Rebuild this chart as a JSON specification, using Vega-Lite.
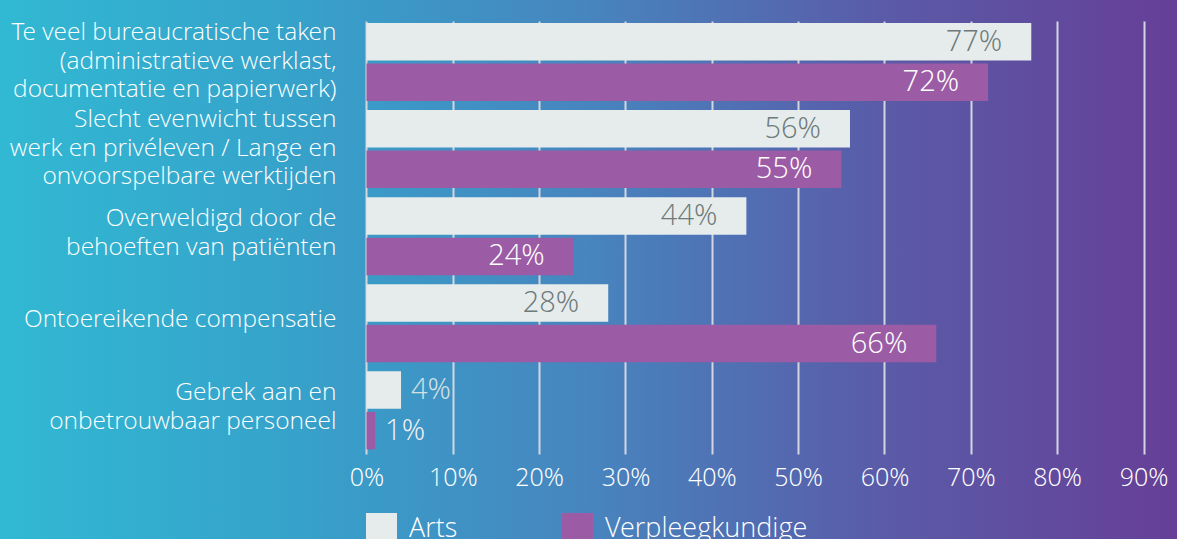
{
  "$schema": "https://vega.github.io/schema/vega-lite/v6.json",
  "width": 1177,
  "height": 539,
  "autosize": {"type": "none"},
  "padding": 0,
  "background": "#4785bf",
  "view": {
    "stroke": null,
    "fill": {
      "gradient": "linear",
      "x1": 0, "y1": 0, "x2": 1, "y2": 0,
      "stops": [
        {"offset": 0, "color": "#31b9d3"},
        {"offset": 0.25, "color": "#36a2ca"},
        {"offset": 0.5, "color": "#4785bf"},
        {"offset": 0.75, "color": "#5a5ba8"},
        {"offset": 1, "color": "#663f97"}
      ]
    }
  },
  "config": {
    "font": "Open Sans Light, Open Sans",
    "text": {"font": "Open Sans Light, Open Sans", "fontWeight": 300}
  },
  "data": {
    "values": [
      {"category": "Te veel bureaucratische taken\n(administratieve werklast,\ndocumentatie en papierwerk)", "series": "Arts", "value": 0.77},
      {"category": "Te veel bureaucratische taken\n(administratieve werklast,\ndocumentatie en papierwerk)", "series": "Verpleegkundige", "value": 0.72},
      {"category": "Slecht evenwicht tussen\nwerk en privéleven / Lange en\nonvoorspelbare werktijden", "series": "Arts", "value": 0.56},
      {"category": "Slecht evenwicht tussen\nwerk en privéleven / Lange en\nonvoorspelbare werktijden", "series": "Verpleegkundige", "value": 0.55},
      {"category": "Overweldigd door de\nbehoeften van patiënten", "series": "Arts", "value": 0.44},
      {"category": "Overweldigd door de\nbehoeften van patiënten", "series": "Verpleegkundige", "value": 0.24},
      {"category": "Ontoereikende compensatie", "series": "Arts", "value": 0.28},
      {"category": "Ontoereikende compensatie", "series": "Verpleegkundige", "value": 0.66},
      {"category": "Gebrek aan en\nonbetrouwbaar personeel", "series": "Arts", "value": 0.04},
      {"category": "Gebrek aan en\nonbetrouwbaar personeel", "series": "Verpleegkundige", "value": 0.01}
    ]
  },
  "encoding": {
    "y": {
      "field": "category",
      "type": "nominal",
      "sort": null,
      "scale": {"range": [21, 454], "paddingInner": 0.104, "paddingOuter": 0.038, "align": 0.3},
      "axis": {
        "orient": "left",
        "offset": -336,
        "domain": false,
        "ticks": false,
        "grid": false,
        "title": null,
        "labelPadding": 0,
        "labelFont": "Open Sans Light, Open Sans",
        "labelFontWeight": 300,
        "labelFontSize": 24.5,
        "labelColor": "#ffffff",
        "labelLineHeight": 28.5,
        "labelOffset": {
          "condition": [
            {"test": "length(split(datum.value, '\\n')) == 3", "value": -29},
            {"test": "length(split(datum.value, '\\n')) == 2", "value": -17}
          ],
          "value": -3.5
        },
        "labelLimit": 0,
        "labelExpr": "split(datum.value, '\\n')"
      }
    },
    "yOffset": {
      "field": "series",
      "type": "nominal",
      "sort": ["Arts", "Verpleegkundige"],
      "scale": {"paddingInner": 0.074}
    },
    "x": {
      "field": "value",
      "type": "quantitative",
      "scale": {"domain": [-0.4245, 0.9388], "nice": false, "zero": false},
      "axis": {
        "orient": "top",
        "offset": -492,
        "values": [0, 0.1, 0.2, 0.3, 0.4, 0.5, 0.6, 0.7, 0.8, 0.9],
        "format": ".0%",
        "domain": false,
        "ticks": false,
        "grid": true,
        "gridColor": "#d3d5df",
        "gridWidth": 2,
        "title": null,
        "labelPadding": 2,
        "labelDx": 11,
        "labelFont": "Open Sans Light, Open Sans",
        "labelFontWeight": 300,
        "labelFontSize": 25,
        "labelColor": "#ffffff",
        "labelFlush": false,
        "labelOverlap": false,
        "labelBound": false
      }
    }
  },
  "layer": [
    {
      "mark": {"type": "bar"},
      "encoding": {
        "x2": {"datum": 0},
        "color": {
          "field": "series",
          "type": "nominal",
          "scale": {"domain": ["Arts", "Verpleegkundige"], "range": ["#e6ecec", "#9b5ca5"]},
          "legend": {
            "orient": "none",
            "legendX": 366,
            "legendY": 513,
            "direction": "horizontal",
            "title": null,
            "symbolType": "square",
            "symbolSize": 961,
            "symbolStrokeWidth": 0,
            "symbolOpacity": 1,
            "labelFont": "Open Sans Light, Open Sans",
            "labelFontWeight": 300,
            "labelFontSize": 27,
            "labelColor": "#ffffff",
            "labelOffset": 12,
            "columnPadding": 104,
            "padding": 0,
            "labelLimit": 0
          }
        }
      }
    },
    {
      "transform": [{"filter": "datum.value >= 0.1"}],
      "mark": {"type": "text", "align": "right", "baseline": "middle", "dx": -29, "fontSize": 29, "fontWeight": 300},
      "encoding": {
        "text": {"field": "value", "type": "quantitative", "format": ".0%"},
        "color": {"condition": {"test": "datum.series === 'Arts'", "value": "#6d7a79"}, "value": "#ffffff"}
      }
    },
    {
      "transform": [{"filter": "datum.value < 0.1"}],
      "mark": {"type": "text", "align": "left", "baseline": "middle", "dx": 10, "fontSize": 29, "fontWeight": 300},
      "encoding": {
        "text": {"field": "value", "type": "quantitative", "format": ".0%"},
        "color": {"condition": {"test": "datum.series === 'Arts'", "value": "#d6e2e2"}, "value": "#f4f0f6"}
      }
    }
  ]
}
